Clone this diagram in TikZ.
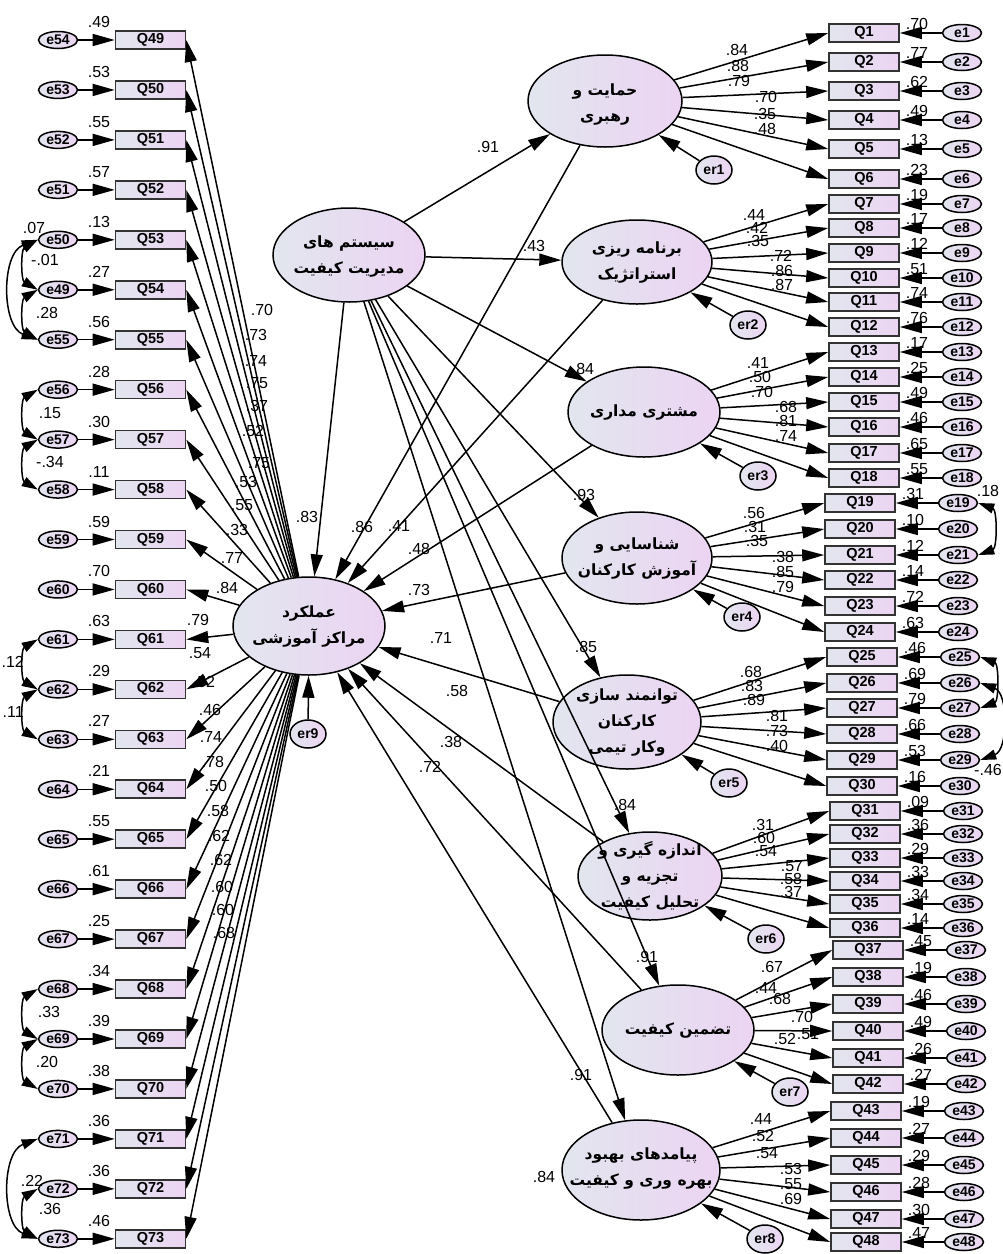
\documentclass[tikz,border=0pt]{standalone}
\usepackage{fontspec}
\setmainfont{Liberation Sans}
\newfontfamily\fa[Script=Arabic]{DejaVu Sans}
\TeXXeTstate=1
\usetikzlibrary{shapes.geometric,arrows.meta}
\definecolor{gA}{RGB}{226,230,238}
\definecolor{gB}{RGB}{236,212,243}
\begin{document}
\begin{tikzpicture}[x=1pt,y=-1pt,
  lat/.style={ellipse,draw=black,line width=1.5pt,left color=gA,right color=gB,inner sep=0pt},
  lattext/.style={inner sep=0pt,align=center,font=\fa\bfseries\fontsize{15.5}{26}\selectfont},
  obs/.style={rectangle,draw=black!80,line width=1.6pt,left color=gA,right color=gB,minimum width=70pt,minimum height=18pt,inner sep=0pt,font=\bfseries\fontsize{14.5}{14.5}\selectfont},
  err/.style={ellipse,draw=black,line width=1.5pt,left color=gA,right color=gB,minimum width=39pt,minimum height=17pt,inner sep=0pt,font=\bfseries\fontsize{14}{14}\selectfont},
  res/.style={ellipse,draw=black,line width=1.5pt,left color=gA,right color=gB,minimum width=36pt,minimum height=28pt,inner sep=0pt,font=\bfseries\fontsize{14}{14}\selectfont},
  arr/.style={-{Triangle[length=22pt,width=12pt]},line width=1.5pt},
  cov/.style={{Triangle[length=16pt,width=10pt]}-{Triangle[length=16pt,width=10pt]},line width=1.5pt},
  num/.style={font=\fontsize{16}{16}\selectfont,inner sep=0pt}
]
\useasboundingbox (0,0) rectangle (1003,1254);
\fill[white] (0,0) rectangle (1003,1254);

% latent variables
\node[lat,minimum width=154pt,minimum height=92pt] (L1) at (605,101) {};
\node[lat,minimum width=152pt,minimum height=94pt] (S) at (349,255) {};
\node[lat,minimum width=150pt,minimum height=84pt] (L2) at (637,262) {};
\node[lat,minimum width=152pt,minimum height=90pt] (L3) at (644,412) {};
\node[lat,minimum width=150pt,minimum height=92pt] (L4) at (637,558) {};
\node[lat,minimum width=152pt,minimum height=98pt] (P) at (309,626) {};
\node[lat,minimum width=148pt,minimum height=94pt] (L5) at (627,722) {};
\node[lat,minimum width=144pt,minimum height=88pt] (L6) at (650,876) {};
\node[lat,minimum width=152pt,minimum height=90pt] (L7) at (678,1030) {};
\node[lat,minimum width=158pt,minimum height=100pt] (L8) at (641,1170) {};
\node[lattext] (L1t) at (605,104) {\beginR حمایت و\endR\\\beginR رهبری\endR};
\node[lattext] (St) at (349,256) {\beginR سیستم های\endR\\\beginR مدیریت کیفیت\endR};
\node[lattext] (L2t) at (637,262) {\beginR برنامه ریزی\endR\\\beginR استراتژیک\endR};
\node[lattext] (L3t) at (644,412) {\beginR مشتری مداری\endR};
\node[lattext] (L4t) at (637,558) {\beginR شناسایی و\endR\\\beginR آموزش کارکنان\endR};
\node[lattext] (Pt) at (309,626) {\beginR عملکرد\endR\\\beginR مراکز آموزشی\endR};
\node[lattext] (L5t) at (627,722) {\beginR توانمند سازی\endR\\\beginR کارکنان\endR\\\beginR وکار تیمی\endR};
\node[lattext] (L6t) at (650,876) {\beginR اندازه گیری و\endR\\\beginR تجزیه و\endR\\\beginR تحلیل کیفیت\endR};
\node[lattext] (L7t) at (678,1030) {\beginR تضمین کیفیت\endR};
\node[lattext] (L8t) at (641,1168) {\beginR پیامدهای بهبود\endR\\\beginR بهره وری و کیفیت\endR};

% residuals of latents
\node[res] (er1) at (714,170) {er1};
\node[res] (er2) at (748,325) {er2};
\node[res] (er3) at (758,476) {er3};
\node[res] (er4) at (742,617) {er4};
\node[res] (er5) at (729,783) {er5};
\node[res] (er6) at (766,939) {er6};
\node[res] (er7) at (790,1092) {er7};
\node[res] (er8) at (765,1239) {er8};
\node[res] (er9) at (308,734) {er9};
\foreach \k/\t in {1/L1,2/L2,3/L3,4/L4,5/L5,6/L6,7/L7,8/L8,9/P}
  \draw[arr] (er\k) -- (\t);

% left indicators
\foreach \i/\e/\r/\l/\lx/\ly in {49/54/.49/.70/262/310,50/53/.53/.73/256/335,51/52/.55/.74/256/361,52/51/.57/.75/257/383,53/50/.13/.37/257/406,54/49/.27/.52/253/431,55/55/.56/.75/259/463,56/56/.28/.53/246/482,57/57/.30/.55/242/505,58/58/.11/.33/237/530,59/59/.59/.77/232/558,60/60/.70/.84/227/588,61/61/.63/.79/198/620,62/62/.29/.54/200/653,63/63/.27/.52/204/682,64/64/.21/.46/210/710,65/65/.55/.74/211/737,66/66/.61/.78/213/762,67/67/.25/.50/216/786,68/68/.34/.58/218/811,69/69/.39/.62/219/836,70/70/.38/.62/221/860,71/71/.36/.60/222/887,72/72/.36/.60/223/910,73/73/.46/.68/224/933}{
  \pgfmathsetmacro\yy{40+49.95*(\i-49)}
  \node[obs] (Q\i) at (150.5,\yy) {Q\i};
  \node[err] (e\e) at (58,\yy) {e\e};
  \draw[arr] (e\e) -- (Q\i);
  \draw[arr] (P) -- (Q\i.east);
  \node[num] (lr\i) at (99,\yy-18) {\r};
  \node[num] (ll\i) at (\lx,\ly) {\l};
}

% right indicators
\foreach \i/\y/\x/\r/\l/\lx/\ly/\L in {
1/33/864/.70/.84/737/50/L1,2/62/864/.77/.88/738/66/L1,3/91/864/.62/.79/739/81/L1,4/120/864/.49/.70/766/97/L1,5/149/864/.13/.35/765/114/L1,6/179/864/.23/.48/765/129/L1,
7/204/864/.19/.44/754/215/L2,8/228/864/.17/.42/757/228/L2,9/253/864/.12/.35/758/241/L2,10/278/864/.51/.72/781/256/L2,11/302/864/.74/.86/782/271/L2,12/327/864/.76/.87/782/285/L2,
13/352/864/.17/.41/758/363/L3,14/377/864/.25/.50/760/377/L3,15/402/864/.49/.70/762/392/L3,16/427/864/.46/.68/786/407/L3,17/453/864/.65/.81/786/421/L3,18/478/864/.55/.74/786/436/L3,
19/503/860/.31/.56/754/513/L4,20/529/860/.10/.31/755/527/L4,21/555/860/.12/.35/757/541/L4,22/580/860/.14/.38/783/557/L4,23/606/860/.72/.85/783/572/L4,24/632/860/.63/.79/783/587/L4,
25/657/862/.46/.68/751/672/L5,26/683/862/.69/.83/752/686/L5,27/708/862/.79/.89/754/700/L5,28/734/862/.66/.81/777/716/L5,29/760/862/.53/.73/777/731/L5,30/786/862/.16/.40/777/746/L5,
31/811/865/.09/.31/763/825/L6,32/834/865/.36/.60/764/838/L6,33/858/865/.29/.54/766/851/L6,34/881/865/.33/.57/792/866/L6,35/904/865/.34/.58/791/879/L6,36/928/865/.14/.37/791/892/L6,
37/950/868/.45/.67/772/967/L7,38/977/868/.19/.44/766/988/L7,39/1004/868/.46/.68/780/999/L7,40/1031/868/.49/.70/802/1017/L7,41/1058/868/.26/.51/808/1034/L7,42/1084/868/.27/.52/785/1039/L7,
43/1111/866/.19/.44/761/1119/L8,44/1138/866/.27/.52/763/1136/L8,45/1165/866/.29/.54/767/1153/L8,46/1192/866/.28/.53/791/1169/L8,47/1219/866/.30/.55/791/1184/L8,48/1242/866/.47/.69/791/1199/L8}{
  \node[obs] (Q\i) at (\x,\y) {Q\i};
  \node[err] (e\i) at (\x+98,\y) {e\i};
  \draw[arr] (e\i) -- (Q\i);
  \draw[arr] (\L) -- (Q\i.west);
  \node[num] (rr\i) at (\x+53,\y-9) {\r};
  \node[num] (rl\i) at (\lx,\ly) {\l};
}

% structural paths
\foreach \t in {L1,L2,L3,L4,L5,L6,L7,L8,P}
  \draw[arr] (S) -- (\t);
\foreach \t in {L1,L2,L3,L4,L5,L6,L7,L8}
  \draw[arr] (\t) -- (P);

% covariances left
\draw[cov] (e50.west) to[bend right=60] (e49.west);
\draw[cov] (e49.west) to[bend right=60] (e55.west);
\draw[cov] (e50.west) to[bend right=70] (e55.west);
\draw[cov] (e56.west) to[bend right=60] (e57.west);
\draw[cov] (e57.west) to[bend right=60] (e58.west);
\draw[cov] (e61.west) to[bend right=60] (e62.west);
\draw[cov] (e62.west) to[bend right=60] (e63.west);
\draw[cov] (e68.west) to[bend right=60] (e69.west);
\draw[cov] (e69.west) to[bend right=60] (e70.west);
\draw[cov] (e71.west) to[bend right=70] (e73.west);
\draw[cov] (e72.west) to[bend right=60] (e73.west);
% covariances right
\draw[cov] (e19.east) to[bend left=70] (e21.east);
\draw[cov] (e25.east) to[bend left=70] (e27.east);
\draw[cov] (e26.east) to[bend left=70] (e29.east);

% labels of structural paths and covariances
\node[num] (p1) at (488,147) {.91};
\node[num] (p2) at (534,246) {.43};
\node[num] (p3) at (583,369) {.84};
\node[num] (p4) at (584,495) {.93};
\node[num] (p5) at (586,647) {.85};
\node[num] (p6) at (625,805) {.84};
\node[num] (p7) at (647,957) {.91};
\node[num] (p8) at (581,1075) {.91};
\node[num] (p9) at (544,1177) {.84};
\node[num] (p10) at (307,517) {.83};
\node[num] (p11) at (362,527) {.86};
\node[num] (p12) at (399,526) {.41};
\node[num] (p13) at (419,549) {.48};
\node[num] (p14) at (419,590) {.73};
\node[num] (p15) at (441,638) {.71};
\node[num] (p16) at (457,691) {.58};
\node[num] (p17) at (451,742) {.38};
\node[num] (p18) at (430,767) {.72};
\node[num] (c1) at (34,228) {.07};
\node[num] (c2) at (45,260) {-.01};
\node[num] (c3) at (47,313) {.28};
\node[num] (c4) at (50,413) {.15};
\node[num] (c5) at (50,462) {-.34};
\node[num,anchor=east] (c6) at (24,662) {.12};
\node[num,anchor=east] (c7) at (24,712) {.11};
\node[num] (c8) at (49,1012) {.33};
\node[num] (c9) at (47,1062) {.20};
\node[num] (c10) at (32,1181) {.22};
\node[num] (c11) at (50,1209) {.36};
\node[num] (c12) at (988,491) {.18};
\node[num,anchor=east] (c13) at (1002,770) {-.46};
\end{tikzpicture}
\end{document}
